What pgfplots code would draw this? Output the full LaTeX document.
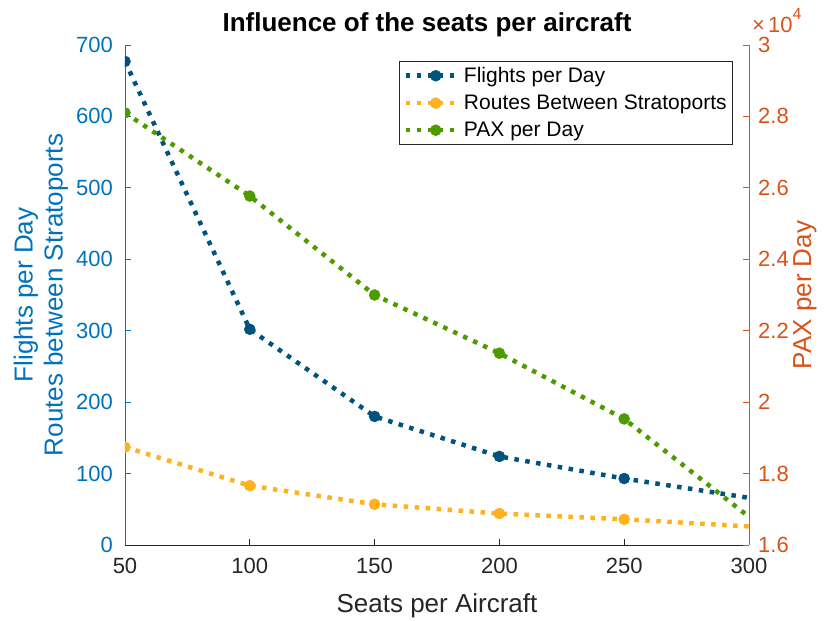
\documentclass[border=0pt]{standalone}
\usepackage{pgfplots}
\pgfplotsset{compat=1.18}
\usepackage{fontspec}
\setmainfont{Liberation Sans}
\definecolor{cflights}{RGB}{0,83,125}
\definecolor{croutes}{RGB}{255,178,29}
\definecolor{cpax}{RGB}{78,155,0}
\definecolor{cleft}{RGB}{0,114,189}
\definecolor{cright}{RGB}{217,83,25}
\definecolor{caxis}{RGB}{38,38,38}
\pgfplotsset{
  ser/.style={line width=4.5bp, dash pattern=on 4.5bp off 6.5bp, mark=*, mark size=5.5bp,
    mark options={solid, line width=0.5bp}, mark indices={1,2,3,4,5}},
  common/.style={
    width=624bp, height=500bp, scale only axis,
    xmin=50, xmax=300,
    clip marker paths=true,
    tick align=inside, major tick length=6bp,
    /pgf/number format/assume math mode=true,
    tick label style={font=\fontsize{22bp}{26bp}\selectfont},
    label style={font=\fontsize{26bp}{30bp}\selectfont},
    axis line style={-, line width=0.8bp},
    legend image code/.code={
      \draw[##1, mark=none] (0bp,0bp) -- (54bp,0bp);
      \draw[##1, solid] plot coordinates {(30bp,0bp)};
    },
  }
}
\begin{document}
\begin{tikzpicture}
\begin{axis}[common, name=ax1,
  axis x line*=bottom, axis y line*=left,
  x axis line style={draw=caxis}, y axis line style={draw=cleft},
  xtick={50,100,150,200,250,300},
  xtick style={draw=caxis, line width=0.8bp},
  ytick style={draw=cleft, line width=0.8bp},
  ymin=0, ymax=700, ytick={0,100,...,700},
  xticklabel style={anchor=base, yshift=-29bp, text=caxis},
  yticklabel style={anchor=east, inner sep=0pt, xshift=-12bp, text=cleft},
  xlabel={Seats per Aircraft},
  xlabel style={at={(axis description cs:0.5,0)}, anchor=base, yshift=-68bp, text=caxis},
  ylabel={Flights per Day\\Routes between Stratoports},
  ylabel style={align=center, at={(axis description cs:-0.1346,0.5)}, anchor=center, text=cleft},
  title={Influence of the seats per aircraft},
  title style={font=\bfseries\fontsize{26bp}{30bp}\selectfont, at={(axis description cs:0.484,1)}, anchor=base, yshift=8bp},
  legend cell align=left,
  legend style={at={(axis description cs:0.9744,0.968)}, anchor=north east,
    font=\fontsize{21bp}{25bp}\selectfont, draw=caxis, line width=0.8bp,
    inner xsep=4bp, inner ysep=4bp, row sep=7bp},
]
\addplot[ser, color=cflights] coordinates {(50,677) (100,302) (150,180) (200,124) (250,93) (300,66)};
\addlegendentry{Flights per Day}
\addplot[ser, color=croutes] coordinates {(50,137) (100,83) (150,57) (200,44) (250,36) (300,26)};
\addlegendentry{Routes Between Stratoports}
\addlegendimage{ser, color=cpax}
\addlegendentry{PAX per Day}
\end{axis}
\begin{axis}[common,
  axis y line*=right, hide x axis,
  y axis line style={draw=cright},
  ytick style={draw=cright, line width=0.8bp},
  ymin=16000, ymax=30000,
  ytick={16000,18000,20000,22000,24000,26000,28000,30000},
  yticklabels={1.6,1.8,2,2.2,2.4,2.6,2.8,3},
  scaled y ticks=false,
  yticklabel style={anchor=west, inner sep=0pt, xshift=9bp, text=cright},
  ylabel={PAX per Day},
  ylabel style={at={(axis description cs:1.0897,0.5)}, anchor=center, text=cright},
]
\addplot[ser, color=cpax] coordinates {(50,28100) (100,25770) (150,23000) (200,21370) (250,19530) (300,16790)};
\end{axis}
\node[anchor=base west, inner sep=0pt, text=cright, font=\fontsize{22bp}{26bp}\selectfont, xshift=3bp, yshift=12.5bp] at (ax1.north east) {\texttimes\hspace{3bp}10\raisebox{0.6em}{\fontsize{16bp}{18bp}\selectfont 4}};
\pgfresetboundingbox
\path[use as bounding box] ([shift={(-125bp,-76bp)}]ax1.south west) rectangle ([shift={(81bp,45bp)}]ax1.north east);
\end{tikzpicture}
\end{document}
